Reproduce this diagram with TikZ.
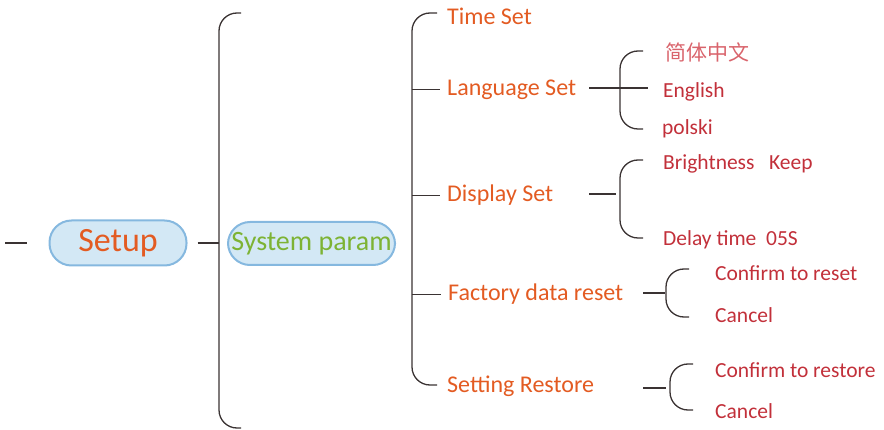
\documentclass[tikz,border=0pt]{standalone}
\usepackage{fontspec}
\setmainfont{Carlito}
\newfontfamily\cjkfont{Noto Sans CJK SC}
\definecolor{mmOrange}{HTML}{E35B22}
\definecolor{mmGreen}{HTML}{7DB334}
\definecolor{mmRed}{HTML}{C2303A}
\definecolor{mmPink}{HTML}{D9646C}
\definecolor{mmFill}{HTML}{D3E8F5}
\definecolor{mmEdge}{HTML}{85B8DF}
\definecolor{mmLine}{HTML}{3A3333}
% bracket: spine x, top y, bottom y, end x
\newcommand{\mmBrace}[4]{\draw[mmbrace] (#4,#2) -| (#1,#3) -- (#4,#3);}

\begin{document}
\begin{tikzpicture}[x=1pt,y=-1pt,
  mmbrace/.style={mmLine, line width=1.3pt, rounded corners=18pt},
  mmlink/.style={mmLine, line width=1.3pt},
  rootnode/.style={draw=mmEdge, fill=mmFill, line width=2pt, rounded corners=22pt, inner sep=0pt},
  topic/.style={anchor=west, inner sep=0pt, yshift=-1.5pt, text=mmOrange, font=\fontsize{24}{28}\selectfont},
  leaf/.style={anchor=west, inner sep=0pt, yshift=-1.5pt, text=mmRed, font=\fontsize{21.5}{25}\selectfont}]
\useasboundingbox (0,0) rectangle (884,430);

% root and first branch
\node[rootnode, minimum width=137pt, minimum height=45pt, text=mmOrange, font=\fontsize{34}{40}\selectfont] (setup) at (118,243) {\raisebox{-2pt}{Setup}};
\node[rootnode, minimum width=167pt, minimum height=43pt, text=mmGreen, font=\fontsize{28}{33}\selectfont] (sysparam) at (311.5,243.5) {\raisebox{-1pt}{System param}};
\coordinate (stub) at (5,243);
\coordinate (spineA) at (219,243);
\draw[mmlink] (stub) -- ([xshift=-22pt]setup.west);
\draw[mmlink] ([xshift=10pt]setup.east) -- (spineA);
\mmBrace{219}{13}{428}{241}

% second level
\node[topic] (timeset) at (447,15) {Time Set};
\node[topic] (langset) at (447,88) {Language Set};
\node[topic] (dispset) at (447,194) {Display Set};
\node[topic] (factory) at (448,293) {Factory data reset};
\node[topic] (restore) at (447,385) {Setting Restore};
\coordinate (spineB) at (412,0);
\mmBrace{412}{13}{385}{437}
\draw[mmlink] (langset.west -| spineB) -- ([xshift=-7pt]langset.west);
\draw[mmlink] (dispset.west -| spineB) -- ([xshift=-7pt]dispset.west);
\draw[mmlink] (factory.west -| spineB) -- ([xshift=-7pt]factory.west);

% language
\node[leaf, text=mmPink, font=\cjkfont\fontsize{21}{25}\selectfont] (zh) at (665,51) {简体中文};
\node[leaf] (english) at (663,90) {English};
\node[leaf] (polski) at (662,127) {polski};
\coordinate (langout) at (589,88);
\coordinate (langbr) at (620,88);
\draw[mmlink] (langout) -- (langbr);
\draw[mmlink] (langbr) -- ([xshift=-15pt]english.west |- langbr);
\mmBrace{620}{51}{129}{643}

% display
\node[leaf] (bright) at (663,162) {Brightness\ \ \ Keep};
\node[leaf] (delay) at (663,238) {Delay time\ \ 05S};
\coordinate (dispout) at (589,194);
\coordinate (dispbr) at (616,194);
\draw[mmlink] (dispout) -- (dispbr);
\mmBrace{620}{160}{238}{643}

% factory reset
\node[leaf] (confreset) at (715,272) {Confirm to reset};
\node[leaf] (cancelA) at (715,314) {Cancel};
\coordinate (factout) at (643,293);
\coordinate (factbr) at (665,293);
\draw[mmlink] (factout) -- (factbr);
\mmBrace{666}{269}{317}{689}

% restore
\node[leaf] (confrestore) at (715,369) {Confirm to restore};
\node[leaf] (cancelB) at (715,410) {Cancel};
\coordinate (restout) at (643,388);
\coordinate (restbr) at (666,388);
\draw[mmlink] (restout) -- (restbr);
\mmBrace{670}{364}{410}{693}
\end{tikzpicture}
\end{document}
